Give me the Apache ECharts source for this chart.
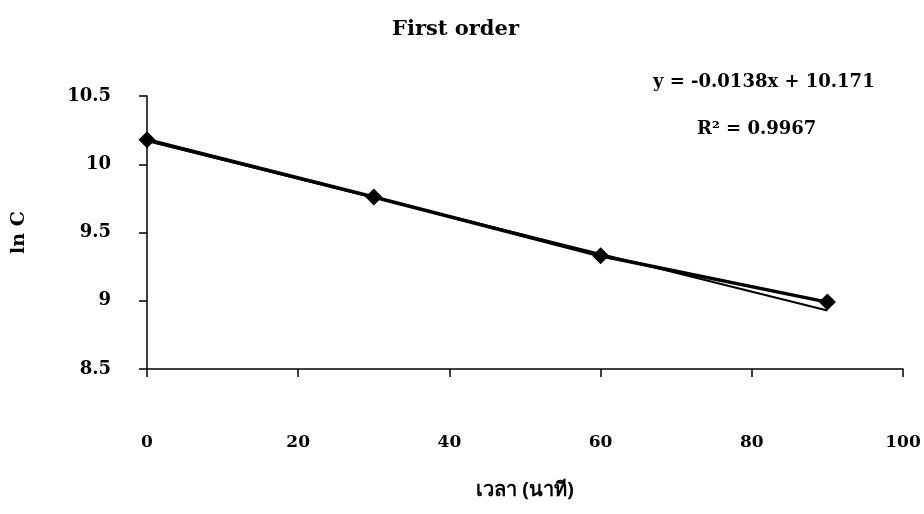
<!DOCTYPE html>
<html><head><meta charset="utf-8">
<script src="https://cdn.jsdelivr.net/npm/echarts@6/dist/echarts.min.js"></script>
<style>html,body{margin:0;padding:0;background:#fff}#c{width:924px;height:514px}</style>
</head><body><div id="c"></div>
<script>
const timeMin = [0, 30, 60, 90];
const lnC = [10.18, 9.76, 9.33, 8.99];
const trendX = [0, 90];
const trendY = [10.171, 8.929];
const xTicks = [0, 20, 40, 60, 80, 100];
const yTicks = [8.5, 9, 9.5, 10, 10.5];
const titleText = 'First order';
const xName = 'เวลา (นาที)';
const yName = 'ln C';
const eqText = 'y = -0.0138x + 10.171';
const r2Text = 'R² = 0.9967';

const serif = '"DejaVu Serif","Liberation Serif",serif';
const chart = echarts.init(document.getElementById('c'));
chart.setOption({
  backgroundColor: '#fff',
  animation: false,
  title: {text: titleText, left: 387, top: 14,
    textStyle: {fontFamily: serif, fontSize: 21, fontWeight: 'bold', color: '#000'}},
  grid: {left: 147, right: 21, top: 96, bottom: 145},
  xAxis: {type: 'value', min: xTicks[0], max: xTicks[xTicks.length-1], interval: 20,
    name: xName, nameLocation: 'middle', nameGap: 111,
    nameTextStyle: {fontFamily: '"Noto Sans","DejaVu Sans",' + serif, fontSize: 20, fontWeight: 'bold', color: '#000'},
    axisLine: {lineStyle: {color: '#000', width: 1.5}},
    axisTick: {show: true, inside: false, length: 8, lineStyle: {color: '#000', width: 1.5}},
    axisLabel: {margin: 65, fontFamily: serif, fontSize: 17, fontWeight: 'bold', color: '#000'},
    splitLine: {show: false}},
  yAxis: {type: 'value', min: yTicks[0], max: yTicks[yTicks.length-1], interval: 0.5,
    name: yName, nameLocation: 'middle', nameGap: 118, nameRotate: 90,
    nameTextStyle: {fontFamily: serif, fontSize: 19, fontWeight: 'bold', color: '#000'},
    axisLine: {show: true, lineStyle: {color: '#000', width: 1.5}},
    axisTick: {show: true, length: 8, lineStyle: {color: '#000', width: 1.5}},
    axisLabel: {margin: 36, fontFamily: serif, fontSize: 18, fontWeight: 'bold', color: '#000'},
    splitLine: {show: false}},
  series: [
    {type: 'line', data: trendX.map((x, i) => [x, trendY[i]]), symbol: 'none',
      lineStyle: {color: '#000', width: 2}, z: 2},
    {type: 'line', data: timeMin.map((x, i) => [x, lnC[i]]), symbol: 'diamond', symbolSize: 17,
      itemStyle: {color: '#000'}, lineStyle: {color: '#000', width: 3.5}, z: 3}
  ],
  graphic: [
    {type: 'text', left: 653, top: 73, style: {text: eqText, fontFamily: serif, fontSize: 18, fontWeight: 'bold', fill: '#000'}},
    {type: 'text', left: 697, top: 120, style: {text: r2Text, fontFamily: serif, fontSize: 18, fontWeight: 'bold', fill: '#000'}}
  ]
});
</script></body></html>
